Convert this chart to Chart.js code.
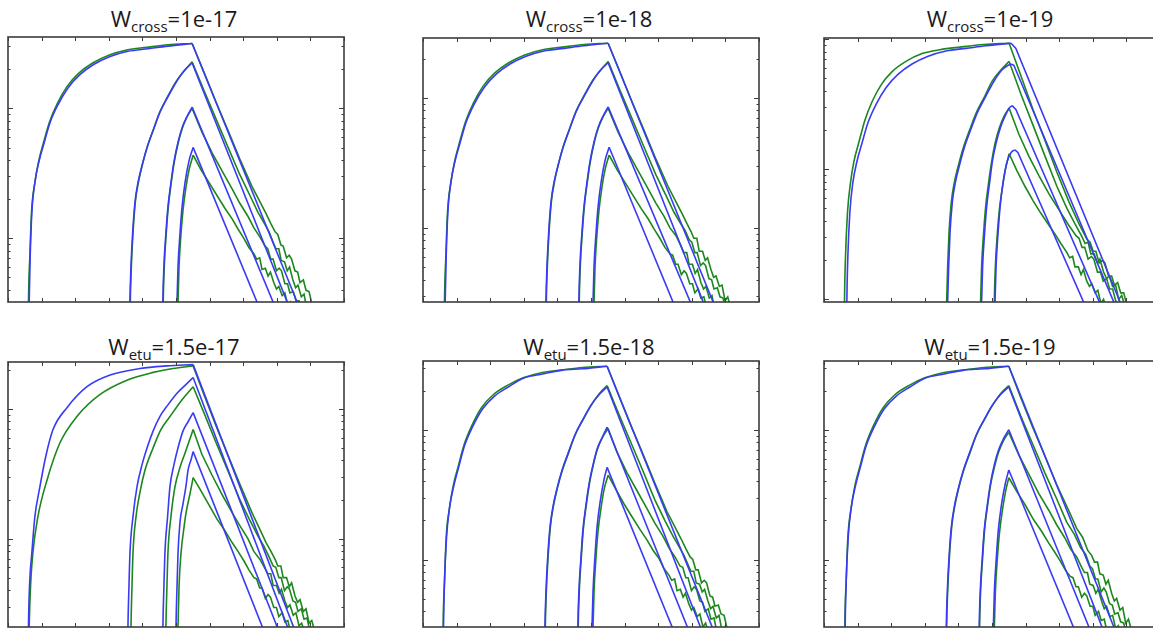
<!DOCTYPE html>
<html>
<head>
<meta charset="utf-8">
<script src="https://cdn.jsdelivr.net/npm/chart.js@4.4.1/dist/chart.umd.min.js"></script>
<style>
  html,body{margin:0;padding:0;background:#fff;}
  body{width:1153px;height:628px;overflow:hidden;position:relative;}
  .ttl{position:absolute;font-family:'Open Sans',sans-serif;font-size:22px;line-height:22px;color:#1a1a1a;white-space:nowrap;transform:translateX(-50%);}
  .ttl sub{font-size:15px;line-height:0;vertical-align:-5px;}
  .pane{position:absolute;}
</style>
</head>
<body>
<script>
// x axis: 0..10, ticks every 1. y axis is logarithmic; points are [x, log10(y)]
const xRange = [0, 10];
const titles = [
  ['W', 'cross', '=1e-17'], ['W', 'cross', '=1e-18'], ['W', 'cross', '=1e-19'],
  ['W', 'etu', '=1.5e-17'], ['W', 'etu', '=1.5e-18'], ['W', 'etu', '=1.5e-19']
];

// ---- W_cross = 1e-17
const crossE17YRange = [-2.49, -0.45];
const crossE17Blue = [
  [[0.61,-2.8],[0.63,-2.49],[0.66,-2.14],[0.71,-1.8],[0.8,-1.57],[0.92,-1.41],[1.07,-1.27],[1.25,-1.11],[1.49,-0.97],[1.79,-0.84],[2.14,-0.74],[2.56,-0.66],[3.04,-0.6],[3.57,-0.56],[4.17,-0.54],[4.76,-0.52],[5.48,-0.5],[8.84,-2.64]],
  [[3.62,-2.72],[3.63,-2.49],[3.66,-2.22],[3.71,-1.96],[3.78,-1.72],[3.87,-1.57],[3.99,-1.44],[4.14,-1.3],[4.32,-1.17],[4.52,-1.03],[4.76,-0.91],[5.0,-0.8],[5.24,-0.71],[5.48,-0.65],[8.54,-2.64]],
  [[4.6,-2.72],[4.61,-2.49],[4.64,-2.22],[4.7,-1.96],[4.76,-1.76],[4.85,-1.57],[4.94,-1.41],[5.06,-1.26],[5.18,-1.15],[5.33,-1.06],[5.48,-0.99],[8.13,-2.64]],
  [[5.01,-2.72],[5.03,-2.49],[5.06,-2.22],[5.12,-1.96],[5.18,-1.76],[5.27,-1.57],[5.39,-1.4],[5.51,-1.3],[7.65,-2.64]]
];
const crossE17Green = [
  [[0.6,-2.8],[0.61,-2.49],[0.65,-2.14],[0.7,-1.8],[0.8,-1.57],[0.91,-1.41],[1.06,-1.26],[1.24,-1.1],[1.47,-0.96],[1.76,-0.83],[2.1,-0.73],[2.52,-0.65],[3.0,-0.59],[3.53,-0.55],[4.12,-0.53],[4.76,-0.51],[5.48,-0.5],
   [5.83,-0.72],[6.19,-0.95],[6.55,-1.17],[6.9,-1.39],[7.26,-1.6],[7.5,-1.72],[7.68,-1.81],[7.83,-1.89],[7.95,-1.95],
   [8.03,-1.97],[8.12,-2.05],[8.19,-2.06],[8.29,-2.15],[8.37,-2.13],[8.44,-2.16],[8.54,-2.25],[8.62,-2.26],[8.69,-2.34],[8.79,-2.32],[8.87,-2.4],[8.96,-2.41],[9.04,-2.5],[9.15,-2.55]],
  [[3.63,-2.72],[3.64,-2.49],[3.67,-2.22],[3.72,-1.96],[3.79,-1.72],[3.88,-1.57],[4.0,-1.43],[4.15,-1.29],[4.33,-1.16],[4.53,-1.02],[4.77,-0.9],[5.01,-0.79],[5.25,-0.71],[5.48,-0.64],
   [5.83,-0.86],[6.19,-1.08],[6.55,-1.3],[6.9,-1.51],[7.2,-1.67],[7.44,-1.8],[7.62,-1.88],[7.77,-1.95],[7.89,-2.03],
   [7.97,-2.08],[8.06,-2.08],[8.13,-2.17],[8.23,-2.18],[8.31,-2.25],[8.38,-2.22],[8.48,-2.32],[8.56,-2.38],[8.63,-2.36],[8.73,-2.45],[8.81,-2.43],[8.9,-2.55],[8.98,-2.52],[9.09,-2.62]],
  [[4.61,-2.72],[4.62,-2.49],[4.65,-2.22],[4.71,-1.96],[4.77,-1.76],[4.86,-1.57],[4.95,-1.41],[5.07,-1.26],[5.19,-1.15],[5.34,-1.06],[5.48,-1.0],
   [5.77,-1.18],[6.07,-1.34],[6.37,-1.48],[6.67,-1.62],[6.9,-1.73],[7.14,-1.83],[7.32,-1.92],[7.5,-1.99],[7.65,-2.06],
   [7.73,-2.08],[7.82,-2.16],[7.89,-2.16],[7.99,-2.25],[8.07,-2.23],[8.14,-2.25],[8.24,-2.35],[8.32,-2.35],[8.39,-2.42],[8.49,-2.41],[8.57,-2.48],[8.66,-2.48],[8.74,-2.58],[8.85,-2.62]],
  [[5.04,-2.72],[5.06,-2.49],[5.09,-2.22],[5.15,-1.96],[5.21,-1.78],[5.3,-1.6],[5.39,-1.47],[5.51,-1.36],
   [5.74,-1.47],[5.98,-1.57],[6.22,-1.67],[6.46,-1.77],[6.67,-1.85],[6.85,-1.93],[7.02,-2.0],[7.17,-2.07],[7.32,-2.12],
   [7.4,-2.16],[7.49,-2.15],[7.56,-2.24],[7.66,-2.23],[7.74,-2.29],[7.81,-2.26],[7.91,-2.34],[7.99,-2.39],[8.06,-2.37],[8.16,-2.44],[8.24,-2.42],[8.33,-2.52],[8.41,-2.49],[8.52,-2.58]]
];

// ---- W_cross = 1e-18
const crossE18YRange = [-2.57, -0.54];
const crossE18Blue = [
  [[0.64,-2.88],[0.66,-2.57],[0.69,-2.22],[0.74,-1.88],[0.83,-1.65],[0.95,-1.49],[1.1,-1.35],[1.28,-1.19],[1.52,-1.05],[1.82,-0.92],[2.17,-0.82],[2.59,-0.74],[3.07,-0.68],[3.6,-0.64],[4.2,-0.62],[4.79,-0.6],[5.51,-0.58],[8.87,-2.72]],
  [[3.65,-2.8],[3.66,-2.57],[3.69,-2.3],[3.74,-2.04],[3.81,-1.8],[3.9,-1.65],[4.02,-1.52],[4.17,-1.38],[4.35,-1.25],[4.55,-1.11],[4.79,-0.99],[5.03,-0.88],[5.27,-0.79],[5.51,-0.73],[8.57,-2.72]],
  [[4.63,-2.8],[4.64,-2.57],[4.67,-2.3],[4.73,-2.04],[4.79,-1.84],[4.88,-1.65],[4.97,-1.49],[5.09,-1.34],[5.21,-1.23],[5.36,-1.14],[5.51,-1.07],[8.2,-2.72]],
  [[5.04,-2.8],[5.06,-2.57],[5.09,-2.3],[5.15,-2.04],[5.21,-1.84],[5.3,-1.65],[5.42,-1.48],[5.54,-1.38],[7.68,-2.72]]
];
const crossE18Green = [
  [[0.63,-2.88],[0.64,-2.57],[0.68,-2.22],[0.73,-1.88],[0.83,-1.65],[0.94,-1.49],[1.09,-1.34],[1.27,-1.18],[1.5,-1.04],[1.79,-0.91],[2.13,-0.81],[2.55,-0.73],[3.03,-0.67],[3.56,-0.63],[4.15,-0.61],[4.79,-0.59],[5.51,-0.58],
   [5.86,-0.8],[6.22,-1.03],[6.58,-1.25],[6.93,-1.47],[7.29,-1.68],[7.53,-1.8],[7.71,-1.89],[7.86,-1.97],[7.98,-2.03],
   [8.06,-2.08],[8.15,-2.08],[8.22,-2.18],[8.32,-2.18],[8.4,-2.25],[8.47,-2.23],[8.57,-2.32],[8.65,-2.38],[8.72,-2.37],[8.82,-2.45],[8.9,-2.44],[8.99,-2.56],[9.07,-2.53],[9.18,-2.64]],
  [[3.66,-2.8],[3.67,-2.57],[3.7,-2.3],[3.75,-2.04],[3.82,-1.8],[3.91,-1.65],[4.03,-1.51],[4.18,-1.37],[4.36,-1.24],[4.56,-1.1],[4.8,-0.98],[5.04,-0.87],[5.28,-0.79],[5.51,-0.72],
   [5.86,-0.94],[6.22,-1.16],[6.58,-1.38],[6.93,-1.59],[7.23,-1.75],[7.47,-1.88],[7.65,-1.96],[7.8,-2.02],[7.92,-2.09],
   [8.0,-2.11],[8.09,-2.19],[8.16,-2.19],[8.26,-2.29],[8.34,-2.27],[8.41,-2.29],[8.51,-2.39],[8.59,-2.4],[8.66,-2.47],[8.76,-2.46],[8.84,-2.53],[8.93,-2.54],[9.01,-2.63],[9.12,-2.67]],
  [[4.64,-2.8],[4.65,-2.57],[4.68,-2.3],[4.74,-2.04],[4.8,-1.84],[4.89,-1.65],[4.98,-1.49],[5.1,-1.34],[5.22,-1.23],[5.37,-1.14],[5.51,-1.08],
   [5.8,-1.26],[6.1,-1.42],[6.4,-1.56],[6.7,-1.7],[6.93,-1.81],[7.17,-1.91],[7.35,-2.0],[7.53,-2.06],[7.68,-2.14],
   [7.76,-2.19],[7.85,-2.19],[7.92,-2.28],[8.02,-2.28],[8.1,-2.35],[8.17,-2.32],[8.27,-2.42],[8.35,-2.47],[8.42,-2.45],[8.52,-2.54],[8.6,-2.52],[8.69,-2.64],[8.77,-2.61],[8.88,-2.71]],
  [[5.07,-2.8],[5.09,-2.57],[5.12,-2.3],[5.18,-2.04],[5.24,-1.86],[5.33,-1.68],[5.42,-1.55],[5.54,-1.44],
   [5.77,-1.55],[6.01,-1.65],[6.25,-1.75],[6.49,-1.85],[6.7,-1.93],[6.88,-2.01],[7.05,-2.08],[7.2,-2.15],[7.35,-2.2],
   [7.43,-2.21],[7.52,-2.28],[7.59,-2.28],[7.69,-2.36],[7.77,-2.33],[7.84,-2.35],[7.94,-2.43],[8.02,-2.43],[8.09,-2.5],[8.19,-2.47],[8.27,-2.54],[8.36,-2.53],[8.44,-2.62],[8.55,-2.65]]
];

// ---- W_cross = 1e-19
const crossE19YRange = [-3.02, -0.99];
const crossE19Blue = [
  [[0.67,-3.33],[0.68,-3.02],[0.71,-2.67],[0.77,-2.33],[0.86,-2.1],[0.98,-1.94],[1.13,-1.8],[1.31,-1.64],[1.55,-1.5],[1.85,-1.37],[2.2,-1.27],[2.62,-1.19],[3.1,-1.13],[3.63,-1.09],[4.23,-1.07],[4.82,-1.05],[5.36,-1.035],[5.57,-1.03],[5.71,-1.07],[9.05,-3.17]],
  [[3.66,-3.25],[3.68,-3.02],[3.71,-2.75],[3.75,-2.49],[3.82,-2.25],[3.91,-2.1],[4.03,-1.97],[4.18,-1.83],[4.36,-1.7],[4.57,-1.56],[4.81,-1.44],[5.04,-1.33],[5.28,-1.24],[5.48,-1.2],[5.57,-1.19],[5.65,-1.2],[8.87,-3.17]],
  [[4.67,-3.25],[4.69,-3.02],[4.72,-2.75],[4.78,-2.49],[4.84,-2.29],[4.93,-2.1],[5.01,-1.94],[5.13,-1.79],[5.25,-1.68],[5.39,-1.59],[5.51,-1.53],[5.6,-1.51],[5.71,-1.54],[8.45,-3.17]],
  [[5.07,-3.25],[5.09,-3.02],[5.12,-2.75],[5.18,-2.49],[5.24,-2.29],[5.33,-2.1],[5.45,-1.94],[5.57,-1.87],[5.68,-1.85],[5.77,-1.87],[7.98,-3.17]]
];
const crossE19Green = [
  [[0.6,-3.33],[0.61,-3.02],[0.64,-2.67],[0.7,-2.33],[0.79,-2.1],[0.89,-1.94],[1.04,-1.79],[1.22,-1.62],[1.43,-1.48],[1.7,-1.35],[2.02,-1.25],[2.44,-1.17],[2.92,-1.11],[3.45,-1.08],[4.05,-1.06],[4.76,-1.04],[5.51,-1.03],
   [5.86,-1.28],[6.22,-1.54],[6.58,-1.78],[6.93,-2.02],[7.29,-2.25],[7.59,-2.42],[7.83,-2.54],
   [7.92,-2.56],[8.01,-2.63],[8.09,-2.63],[8.19,-2.72],[8.29,-2.7],[8.36,-2.72],[8.47,-2.82],[8.56,-2.82],[8.64,-2.89],[8.74,-2.87],[8.83,-2.95],[8.92,-2.95],[9.01,-3.04],[9.13,-3.08]],
  [[3.63,-3.25],[3.65,-3.02],[3.68,-2.75],[3.72,-2.49],[3.79,-2.25],[3.88,-2.1],[4.0,-1.97],[4.15,-1.83],[4.33,-1.7],[4.54,-1.56],[4.78,-1.44],[5.01,-1.32],[5.25,-1.24],[5.51,-1.17],
   [5.86,-1.42],[6.22,-1.66],[6.58,-1.9],[6.93,-2.13],[7.23,-2.3],[7.47,-2.42],[7.68,-2.52],
   [7.77,-2.57],[7.86,-2.56],[7.94,-2.65],[8.04,-2.65],[8.14,-2.72],[8.21,-2.69],[8.32,-2.79],[8.41,-2.84],[8.49,-2.82],[8.59,-2.9],[8.68,-2.89],[8.77,-3.0],[8.86,-2.97],[8.98,-3.07]],
  [[4.64,-3.25],[4.66,-3.02],[4.69,-2.75],[4.75,-2.49],[4.81,-2.29],[4.9,-2.1],[4.99,-1.94],[5.1,-1.79],[5.22,-1.68],[5.36,-1.59],[5.51,-1.53],
   [5.8,-1.73],[6.1,-1.9],[6.4,-2.05],[6.7,-2.19],[6.99,-2.31],[7.26,-2.42],[7.5,-2.51],
   [7.59,-2.53],[7.68,-2.6],[7.76,-2.6],[7.86,-2.69],[7.96,-2.67],[8.03,-2.69],[8.14,-2.79],[8.23,-2.79],[8.31,-2.86],[8.41,-2.84],[8.5,-2.92],[8.59,-2.92],[8.68,-3.01],[8.8,-3.05]],
  [[5.06,-3.25],[5.07,-3.02],[5.1,-2.75],[5.16,-2.49],[5.22,-2.31],[5.31,-2.14],[5.4,-2.0],[5.51,-1.88],
   [5.74,-2.01],[5.98,-2.13],[6.22,-2.24],[6.46,-2.34],[6.67,-2.42],[6.88,-2.5],[7.05,-2.57],[7.23,-2.64],
   [7.31,-2.68],[7.4,-2.67],[7.47,-2.75],[7.57,-2.75],[7.65,-2.81],[7.72,-2.77],[7.82,-2.86],[7.9,-2.9],[7.97,-2.88],[8.07,-2.95],[8.15,-2.93],[8.24,-3.03],[8.32,-3.0],[8.43,-3.09]]
];

// ---- W_etu = 1.5e-17
const etuE17YRange = [-2.68, -0.64];
const etuE17Blue = [
  [[0.6,-2.99],[0.61,-2.68],[0.64,-2.37],[0.71,-2.11],[0.8,-1.83],[0.95,-1.6],[1.13,-1.36],[1.34,-1.16],[1.76,-0.99],[2.35,-0.83],[3.04,-0.74],[3.93,-0.69],[4.73,-0.67],[5.51,-0.66],[8.72,-2.83]],
  [[3.56,-2.91],[3.57,-2.68],[3.6,-2.37],[3.63,-2.11],[3.72,-1.83],[3.84,-1.6],[3.99,-1.43],[4.14,-1.3],[4.32,-1.17],[4.52,-1.06],[4.76,-0.97],[5.03,-0.88],[5.27,-0.82],[5.51,-0.76],[8.54,-2.83]],
  [[4.6,-2.91],[4.61,-2.68],[4.64,-2.37],[4.67,-2.11],[4.75,-1.83],[4.82,-1.6],[4.94,-1.43],[5.06,-1.3],[5.21,-1.17],[5.36,-1.1],[5.51,-1.03],[8.24,-2.83]],
  [[4.99,-2.91],[5.0,-2.68],[5.03,-2.37],[5.06,-2.11],[5.12,-1.87],[5.21,-1.73],[5.3,-1.59],[5.36,-1.47],[5.45,-1.39],[5.51,-1.33],[7.8,-2.83]]
];
const etuE17Green = [
  [[0.61,-2.99],[0.63,-2.68],[0.67,-2.37],[0.74,-2.11],[0.89,-1.83],[1.16,-1.55],[1.55,-1.26],[2.05,-1.06],[2.74,-0.89],[3.54,-0.78],[4.32,-0.72],[4.91,-0.69],[5.51,-0.67],
   [5.83,-0.89],[6.19,-1.13],[6.55,-1.36],[6.9,-1.58],[7.26,-1.8],[7.5,-1.93],[7.68,-2.03],[7.83,-2.1],[7.95,-2.16],
   [8.03,-2.21],[8.12,-2.21],[8.19,-2.3],[8.29,-2.3],[8.37,-2.37],[8.44,-2.34],[8.54,-2.44],[8.62,-2.49],[8.69,-2.47],[8.79,-2.56],[8.87,-2.54],[8.96,-2.65],[9.04,-2.63],[9.15,-2.73]],
  [[3.65,-2.91],[3.66,-2.68],[3.69,-2.37],[3.72,-2.11],[3.81,-1.83],[3.93,-1.64],[4.08,-1.47],[4.32,-1.3],[4.55,-1.16],[4.82,-1.06],[5.18,-0.93],[5.51,-0.83],
   [5.83,-1.03],[6.19,-1.26],[6.55,-1.48],[6.9,-1.7],[7.2,-1.86],[7.44,-1.98],[7.62,-2.06],[7.77,-2.14],[7.89,-2.21],
   [7.97,-2.22],[8.06,-2.3],[8.13,-2.3],[8.23,-2.4],[8.31,-2.37],[8.38,-2.39],[8.48,-2.48],[8.56,-2.49],[8.63,-2.56],[8.73,-2.54],[8.81,-2.62],[8.9,-2.61],[8.98,-2.71],[9.09,-2.75]],
  [[4.69,-2.91],[4.7,-2.68],[4.73,-2.37],[4.76,-2.11],[4.85,-1.83],[4.97,-1.6],[5.12,-1.45],[5.27,-1.34],[5.39,-1.25],[5.51,-1.16],
   [5.77,-1.35],[6.07,-1.51],[6.37,-1.66],[6.67,-1.8],[6.9,-1.9],[7.14,-2.0],[7.32,-2.1],[7.5,-2.16],[7.65,-2.23],
   [7.73,-2.27],[7.82,-2.27],[7.89,-2.36],[7.99,-2.36],[8.07,-2.42],[8.14,-2.39],[8.24,-2.48],[8.32,-2.53],[8.39,-2.51],[8.49,-2.59],[8.57,-2.57],[8.66,-2.67],[8.74,-2.65],[8.85,-2.74]],
  [[5.04,-2.91],[5.06,-2.68],[5.09,-2.37],[5.15,-2.11],[5.24,-1.91],[5.3,-1.8],[5.42,-1.65],[5.51,-1.53],
   [5.74,-1.63],[5.98,-1.74],[6.22,-1.85],[6.46,-1.94],[6.67,-2.03],[6.85,-2.1],[7.02,-2.17],[7.17,-2.24],[7.32,-2.3],
   [7.4,-2.31],[7.49,-2.38],[7.56,-2.38],[7.66,-2.46],[7.74,-2.43],[7.81,-2.45],[7.91,-2.53],[7.99,-2.53],[8.06,-2.6],[8.16,-2.57],[8.24,-2.64],[8.33,-2.63],[8.41,-2.72],[8.52,-2.75]]
];

// ---- W_etu = 1.5e-18
const etuE18YRange = [-2.52, -0.47];
const etuE18Blue = [
  [[0.6,-2.83],[0.61,-2.52],[0.64,-2.17],[0.7,-1.83],[0.79,-1.6],[0.91,-1.44],[1.06,-1.29],[1.24,-1.12],[1.47,-0.98],[1.77,-0.84],[2.13,-0.74],[2.54,-0.67],[3.02,-0.6],[3.56,-0.57],[4.15,-0.54],[4.75,-0.53],[5.48,-0.51],[8.84,-2.67]],
  [[3.62,-2.75],[3.63,-2.52],[3.66,-2.25],[3.71,-1.99],[3.78,-1.75],[3.87,-1.59],[3.99,-1.45],[4.14,-1.31],[4.32,-1.18],[4.52,-1.04],[4.76,-0.92],[5.0,-0.81],[5.24,-0.73],[5.48,-0.67],[8.48,-2.67]],
  [[4.6,-2.75],[4.61,-2.52],[4.64,-2.25],[4.7,-1.99],[4.76,-1.77],[4.85,-1.58],[4.94,-1.42],[5.06,-1.27],[5.18,-1.15],[5.33,-1.06],[5.48,-0.98],[8.1,-2.67]],
  [[5.01,-2.75],[5.03,-2.52],[5.06,-2.25],[5.12,-1.97],[5.18,-1.75],[5.27,-1.56],[5.39,-1.38],[5.48,-1.29],[7.65,-2.67]]
];
const etuE18Green = [
  [[0.59,-2.83],[0.6,-2.52],[0.64,-2.17],[0.69,-1.83],[0.79,-1.6],[0.9,-1.43],[1.05,-1.28],[1.23,-1.11],[1.45,-0.97],[1.74,-0.83],[2.09,-0.73],[2.5,-0.66],[2.98,-0.6],[3.52,-0.56],[4.11,-0.54],[4.75,-0.52],[5.48,-0.51],
   [5.83,-0.74],[6.19,-0.97],[6.55,-1.19],[6.9,-1.41],[7.26,-1.63],[7.5,-1.75],[7.68,-1.84],[7.83,-1.92],[7.95,-1.98],
   [8.03,-2.0],[8.12,-2.08],[8.19,-2.08],[8.29,-2.18],[8.37,-2.16],[8.44,-2.18],[8.54,-2.28],[8.62,-2.29],[8.69,-2.36],[8.79,-2.35],[8.87,-2.42],[8.96,-2.43],[9.04,-2.52],[9.15,-2.56]],
  [[3.63,-2.75],[3.64,-2.52],[3.67,-2.25],[3.72,-1.99],[3.79,-1.75],[3.88,-1.59],[4.0,-1.45],[4.15,-1.31],[4.33,-1.18],[4.53,-1.04],[4.77,-0.92],[5.01,-0.81],[5.25,-0.72],[5.48,-0.66],
   [5.83,-0.88],[6.19,-1.1],[6.55,-1.32],[6.9,-1.54],[7.2,-1.7],[7.44,-1.82],[7.62,-1.9],[7.77,-1.97],[7.89,-2.04],
   [7.97,-2.09],[8.06,-2.09],[8.13,-2.18],[8.23,-2.19],[8.31,-2.25],[8.38,-2.23],[8.48,-2.32],[8.56,-2.38],[8.63,-2.36],[8.73,-2.45],[8.81,-2.43],[8.9,-2.55],[8.98,-2.52],[9.09,-2.62]],
  [[4.61,-2.75],[4.62,-2.52],[4.65,-2.25],[4.71,-1.99],[4.77,-1.77],[4.86,-1.58],[4.95,-1.42],[5.07,-1.27],[5.19,-1.15],[5.34,-1.06],[5.51,-0.99],
   [5.77,-1.17],[6.07,-1.33],[6.37,-1.47],[6.67,-1.61],[6.9,-1.72],[7.14,-1.82],[7.32,-1.91],[7.5,-1.98],[7.65,-2.05],
   [7.73,-2.06],[7.82,-2.14],[7.89,-2.14],[7.99,-2.24],[8.07,-2.21],[8.14,-2.23],[8.24,-2.32],[8.32,-2.33],[8.39,-2.4],[8.49,-2.38],[8.57,-2.46],[8.66,-2.45],[8.74,-2.55],[8.85,-2.59]],
  [[5.04,-2.75],[5.06,-2.52],[5.09,-2.25],[5.15,-1.98],[5.21,-1.78],[5.3,-1.6],[5.39,-1.46],[5.51,-1.35],
   [5.74,-1.46],[5.98,-1.57],[6.22,-1.67],[6.46,-1.77],[6.67,-1.85],[6.85,-1.93],[7.02,-1.99],[7.17,-2.07],[7.32,-2.12],
   [7.4,-2.16],[7.49,-2.15],[7.56,-2.24],[7.66,-2.23],[7.74,-2.29],[7.81,-2.26],[7.91,-2.34],[7.99,-2.39],[8.06,-2.37],[8.16,-2.44],[8.24,-2.42],[8.33,-2.52],[8.41,-2.49],[8.52,-2.58]]
];

// ---- W_etu = 1.5e-19
const etuE19YRange = [-2.52, -0.47];
const etuE19Blue = [
  [[0.62,-2.83],[0.63,-2.52],[0.66,-2.17],[0.72,-1.83],[0.81,-1.6],[0.93,-1.44],[1.08,-1.29],[1.26,-1.12],[1.49,-0.98],[1.79,-0.84],[2.15,-0.74],[2.56,-0.67],[3.04,-0.6],[3.58,-0.57],[4.17,-0.54],[4.77,-0.53],[5.5,-0.51],[8.86,-2.67]],
  [[3.63,-2.75],[3.64,-2.52],[3.67,-2.25],[3.72,-1.99],[3.79,-1.75],[3.88,-1.59],[4.0,-1.45],[4.15,-1.31],[4.33,-1.18],[4.53,-1.04],[4.77,-0.92],[5.01,-0.81],[5.25,-0.73],[5.5,-0.67],[8.5,-2.67]],
  [[4.61,-2.75],[4.62,-2.52],[4.65,-2.25],[4.71,-1.99],[4.77,-1.77],[4.86,-1.58],[4.95,-1.42],[5.07,-1.27],[5.19,-1.16],[5.34,-1.07],[5.5,-1.0],[8.12,-2.67]],
  [[5.02,-2.75],[5.04,-2.52],[5.07,-2.25],[5.13,-1.98],[5.19,-1.77],[5.28,-1.58],[5.4,-1.41],[5.5,-1.31],[7.66,-2.67]]
];
const etuE19Green = [
  [[0.61,-2.83],[0.62,-2.52],[0.66,-2.17],[0.71,-1.83],[0.81,-1.6],[0.92,-1.43],[1.07,-1.28],[1.25,-1.11],[1.47,-0.97],[1.76,-0.83],[2.11,-0.73],[2.52,-0.66],[3.0,-0.6],[3.54,-0.56],[4.13,-0.54],[4.77,-0.52],[5.5,-0.51],
   [5.85,-0.75],[6.21,-0.98],[6.57,-1.2],[6.92,-1.42],[7.28,-1.62],[7.52,-1.76],[7.7,-1.83],[7.85,-1.93],[7.97,-1.97],
   [8.05,-2.02],[8.14,-2.02],[8.21,-2.11],[8.31,-2.12],[8.39,-2.19],[8.46,-2.16],[8.56,-2.26],[8.64,-2.32],[8.71,-2.3],[8.81,-2.39],[8.89,-2.37],[8.98,-2.49],[9.06,-2.46],[9.17,-2.56]],
  [[3.64,-2.75],[3.65,-2.52],[3.68,-2.25],[3.73,-1.99],[3.8,-1.75],[3.89,-1.59],[4.01,-1.45],[4.16,-1.31],[4.34,-1.18],[4.54,-1.04],[4.78,-0.92],[5.02,-0.81],[5.26,-0.72],[5.5,-0.66],
   [5.85,-0.89],[6.21,-1.11],[6.57,-1.33],[6.92,-1.53],[7.22,-1.71],[7.46,-1.81],[7.64,-1.91],[7.79,-1.96],[7.91,-2.05],
   [7.99,-2.07],[8.08,-2.15],[8.15,-2.15],[8.25,-2.25],[8.33,-2.22],[8.4,-2.25],[8.5,-2.34],[8.58,-2.35],[8.65,-2.42],[8.75,-2.41],[8.83,-2.48],[8.92,-2.49],[9.0,-2.58],[9.11,-2.62]],
  [[4.62,-2.75],[4.63,-2.52],[4.66,-2.25],[4.72,-1.99],[4.78,-1.77],[4.87,-1.58],[4.96,-1.42],[5.08,-1.28],[5.2,-1.17],[5.35,-1.08],[5.5,-1.02],
   [5.79,-1.19],[6.09,-1.34],[6.39,-1.49],[6.69,-1.62],[6.92,-1.73],[7.16,-1.83],[7.34,-1.92],[7.52,-1.98],[7.67,-2.06],
   [7.75,-2.1],[7.84,-2.1],[7.91,-2.19],[8.01,-2.2],[8.09,-2.26],[8.16,-2.23],[8.26,-2.32],[8.34,-2.38],[8.41,-2.36],[8.51,-2.44],[8.59,-2.43],[8.68,-2.53],[8.76,-2.51],[8.87,-2.61]],
  [[5.05,-2.75],[5.07,-2.52],[5.1,-2.25],[5.16,-1.99],[5.22,-1.8],[5.31,-1.62],[5.4,-1.48],[5.5,-1.37],
   [5.75,-1.48],[5.99,-1.58],[6.23,-1.69],[6.47,-1.78],[6.68,-1.87],[6.86,-1.94],[7.03,-2.01],[7.18,-2.08],[7.33,-2.13],
   [7.41,-2.14],[7.5,-2.21],[7.57,-2.21],[7.67,-2.29],[7.75,-2.26],[7.82,-2.28],[7.92,-2.36],[8.0,-2.36],[8.07,-2.43],[8.17,-2.4],[8.25,-2.47],[8.34,-2.46],[8.42,-2.55],[8.53,-2.58]]
];

const BLUE = 'rgb(58,58,245)';
const GREEN = 'rgb(28,135,28)';
const AXIS = '#3c3c3c';

// inward ticks on all four sides plus the frame
const frameTicks = {
  id: 'frameTicks',
  afterDatasetsDraw(chart) {
    const {ctx, chartArea: a, scales: {x, y}} = chart;
    ctx.save();
    ctx.strokeStyle = AXIS;
    ctx.lineWidth = 1;
    ctx.beginPath();
    for (let v = Math.ceil(x.min); v <= x.max; v++) {
      const px = Math.round(x.getPixelForValue(v)) + 0.5;
      ctx.moveTo(px, a.bottom); ctx.lineTo(px, a.bottom - 4);
      ctx.moveTo(px, a.top); ctx.lineTo(px, a.top + 4);
    }
    const k0 = Math.floor(Math.log10(y.min)), k1 = Math.ceil(Math.log10(y.max));
    for (let k = k0; k <= k1; k++) {
      for (let m = 1; m <= 9; m++) {
        const v = m * Math.pow(10, k);
        if (v < y.min || v > y.max) continue;
        const py = Math.round(y.getPixelForValue(v)) + 0.5;
        const len = m === 1 ? 5 : 2.5;
        ctx.moveTo(a.left, py); ctx.lineTo(a.left + len, py);
        ctx.moveTo(a.right, py); ctx.lineTo(a.right - len, py);
      }
    }
    ctx.stroke();
    ctx.lineWidth = 1.6;
    ctx.strokeRect(a.left, a.top, a.width, a.height);
    ctx.restore();
  }
};

function toPoints(curve) {
  return curve.map(([x, e]) => ({x, y: Math.pow(10, e)}));
}

// split a curve at its peak: smooth build-up, straight/noisy decay
function curveDatasets(curve, color) {
  let iPeak = 0;
  curve.forEach((p, i) => { if (p[1] > curve[iPeak][1]) iPeak = i; });
  const base = {borderColor: color, borderWidth: 1.6, pointRadius: 0, fill: false};
  return [
    Object.assign({data: toPoints(curve.slice(0, iPeak + 1)), cubicInterpolationMode: 'monotone'}, base),
    Object.assign({data: toPoints(curve.slice(iPeak)), tension: 0}, base)
  ];
}

function makePanel(box, title, titleBaseline, yRange, blue, green) {
  const t = document.createElement('div');
  t.className = 'ttl';
  t.innerHTML = title[0] + '<sub>' + title[1] + '</sub>' + title[2];
  t.style.left = (box[0] + box[2] / 2 - 2) + 'px';
  t.style.top = (titleBaseline - 19) + 'px';
  document.body.appendChild(t);

  const pad = 2;
  const wrap = document.createElement('div');
  wrap.className = 'pane';
  wrap.style.left = (box[0] - pad) + 'px';
  wrap.style.top = (box[1] - pad) + 'px';
  const cv = document.createElement('canvas');
  cv.width = box[2] + 2 * pad;
  cv.height = box[3] + 2 * pad;
  wrap.appendChild(cv);
  document.body.appendChild(wrap);

  const datasets = [];
  blue.forEach(c => datasets.push(...curveDatasets(c, BLUE)));
  green.forEach(c => datasets.push(...curveDatasets(c, GREEN)));

  new Chart(cv, {
    type: 'line',
    data: {datasets},
    options: {
      responsive: false,
      animation: false,
      events: [],
      layout: {padding: pad},
      plugins: {legend: {display: false}, tooltip: {enabled: false}},
      scales: {
        x: {type: 'linear', min: xRange[0], max: xRange[1], display: false},
        y: {type: 'logarithmic', min: Math.pow(10, yRange[0]), max: Math.pow(10, yRange[1]), display: false}
      }
    },
    plugins: [frameTicks]
  });
}

makePanel([8, 37, 336, 265], titles[0], 26, crossE17YRange, crossE17Blue, crossE17Green);
makePanel([423, 38, 336, 264], titles[1], 26, crossE18YRange, crossE18Blue, crossE18Green);
makePanel([824, 38, 336, 264], titles[2], 26, crossE19YRange, crossE19Blue, crossE19Green);
makePanel([8, 362, 336, 265], titles[3], 354, etuE17YRange, etuE17Blue, etuE17Green);
makePanel([423, 361, 336, 266], titles[4], 354, etuE18YRange, etuE18Blue, etuE18Green);
makePanel([824, 361, 336, 266], titles[5], 354, etuE19YRange, etuE19Blue, etuE19Green);
</script>
</body>
</html>
